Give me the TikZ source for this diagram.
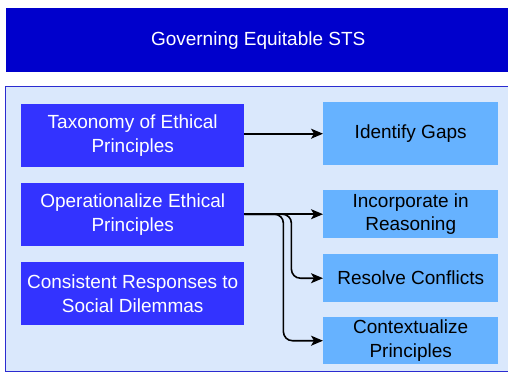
\documentclass[tikz,border=0pt]{standalone}
\usepackage{fontspec}
\setmainfont{Liberation Sans}
\usetikzlibrary{arrows.meta}
\definecolor{titleblue}{HTML}{0000CC}
\definecolor{leftblue}{HTML}{3333FF}
\definecolor{rightblue}{HTML}{66B2FF}
\definecolor{contfill}{HTML}{DAE8FC}
\definecolor{contline}{HTML}{2B2BD0}
\tikzset{
  txt/.style={font=\fontsize{19}{23.5}\selectfont},
  lbox/.style={txt, fill=leftblue, draw=none, text=white, align=center, minimum width=223pt, minimum height=63pt, anchor=north west, inner sep=0pt},
  rbox/.style={txt, fill=rightblue, draw=none, text=black, align=center, minimum width=175pt, anchor=north west, inner sep=0pt},
  arr/.style={draw=black, line width=1.6pt, -{Stealth[length=12pt,width=10pt,inset=3pt]}},
}
\begin{document}
\begin{tikzpicture}[x=1pt,y=-1pt]
\useasboundingbox (0,0) rectangle (508,373);
\clip (0,0) rectangle (508,373);
\node[txt, fill=titleblue, text=white, minimum width=504pt, minimum height=64pt, anchor=north west, inner sep=0pt] (title) at (6,8) {Governing Equitable STS};
\draw[fill=contfill, draw=contline, line width=1.5pt] (5.5,86.5) rectangle (512,371.5);
\node[lbox] (tax) at (21,104) {Taxonomy of Ethical\\Principles};
\node[lbox] (op) at (21,183) {Operationalize Ethical\\Principles};
\node[lbox] (cons) at (21,262) {Consistent Responses to\\Social Dilemmas};
\node[rbox, minimum height=63pt] (gap) at (323,102) {Identify Gaps};
\node[rbox, minimum height=48pt] (inc) at (323,190) {Incorporate in\\Reasoning};
\node[rbox, minimum height=48pt] (res) at (323,254) {Resolve Conflicts};
\node[rbox, minimum height=47pt] (ctx) at (323,317) {Contextualize\\Principles};
\draw[arr] (tax.east |- gap.west) -- (gap.west);
\draw[arr] (op.east |- inc.west) -- (inc.west);
\draw[arr, rounded corners=9pt] (op.east |- inc.west) -- ([xshift=47pt]op.east |- inc.west) |- (res.west);
\draw[arr, rounded corners=9pt] (op.east |- inc.west) -- ([xshift=39pt]op.east |- inc.west) |- (ctx.west);
\end{tikzpicture}
\end{document}
